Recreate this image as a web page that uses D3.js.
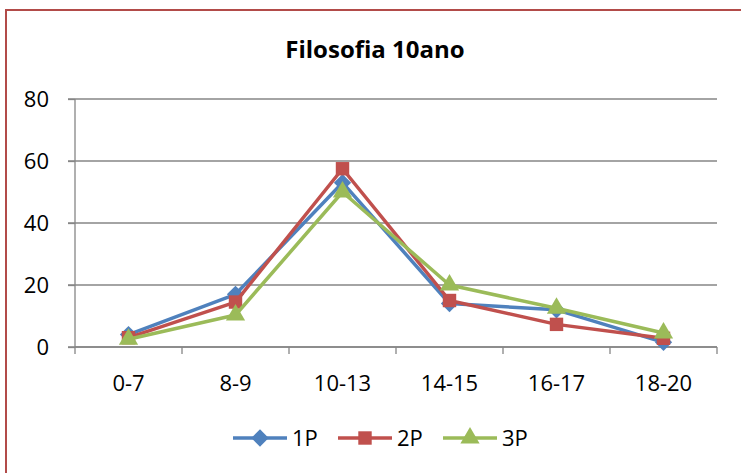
<!DOCTYPE html>
<html>
<head>
<meta charset="utf-8">
<script src="https://cdn.jsdelivr.net/npm/d3@7"></script>
<style>
  html, body { margin: 0; padding: 0; background: #fff; }
  svg { display: block; }
  text { font-family: "Open Sans", Lato, sans-serif; fill: #000; }
</style>
</head>
<body>
<svg id="chart" width="741" height="473"></svg>
<script>
const categories = ["0-7", "8-9", "10-13", "14-15", "16-17", "18-20"];
const seriesNames = ["1P", "2P", "3P"];
const values1P = [4, 17, 53, 14, 12, 1.5];
const values2P = [3, 14.5, 57.5, 15, 7.3, 2.8];
const values3P = [2.5, 10.3, 50, 20, 12.5, 4.5];
const yTicks = [0, 20, 40, 60, 80];
const title = "Filosofia 10ano";

const colors = ["#4F81BD", "#C0504D", "#9BBB59"];
const symbols = [d3.symbolDiamond2, d3.symbolSquare, d3.symbolTriangle];
const symSizes = [190, 180, 160];
const seriesData = [values1P, values2P, values3P];
const FONT = "\"Open Sans\", Lato, sans-serif";

const svg = d3.select("#chart");

// outer chart border (extends beyond the window at right/bottom)
svg.append("rect")
  .attr("x", 6).attr("y", 10)
  .attr("width", 760).attr("height", 480)
  .attr("fill", "none")
  .attr("stroke", "#B24B49")
  .attr("stroke-width", 2);

svg.append("text")
  .attr("x", 375).attr("y", 58)
  .attr("text-anchor", "middle")
  .style("font-size", "24px")
  .style("font-weight", "bold")
  .text(title);

const x = d3.scaleBand().domain(categories).range([75, 717]);
const y = d3.scaleLinear().domain([0, 80]).range([347, 99]);

// gridlines
svg.append("g")
  .selectAll("line")
  .data(yTicks)
  .join("line")
  .attr("x1", 68).attr("x2", 717)
  .attr("y1", d => y(d)).attr("y2", d => y(d))
  .attr("stroke", "#868686")
  .attr("stroke-width", 1.3);

// y axis
const yAxis = svg.append("g")
  .attr("transform", "translate(75,0)")
  .call(d3.axisLeft(y).tickValues(yTicks).tickSize(7).tickPadding(19));
yAxis.select(".domain").attr("stroke", "#868686").attr("stroke-width", 1.3)
  .attr("d", "M0,99V347");
yAxis.selectAll(".tick line").attr("stroke", "#868686").attr("stroke-width", 1.3);
yAxis.selectAll(".tick text").style("font-size", "22px").style("font-family", FONT).attr("fill", "#000");

// x axis
const xAxis = svg.append("g")
  .attr("transform", "translate(0,347)");
xAxis.append("line")
  .attr("x1", 75).attr("x2", 717).attr("y1", 0).attr("y2", 0)
  .attr("stroke", "#868686").attr("stroke-width", 1.3);
const tickPos = categories.map(c => x(c)).concat([x.range()[1]]);
xAxis.selectAll("line.tk")
  .data(tickPos)
  .join("line")
  .attr("class", "tk")
  .attr("x1", d => d).attr("x2", d => d)
  .attr("y1", 0).attr("y2", 7)
  .attr("stroke", "#868686").attr("stroke-width", 1.3);
xAxis.selectAll("text")
  .data(categories)
  .join("text")
  .attr("x", d => x(d) + x.bandwidth() / 2)
  .attr("y", 44)
  .attr("text-anchor", "middle")
  .style("font-size", "22px")
  .text(d => d);

const line = d3.line()
  .x((d, i) => x(categories[i]) + x.bandwidth() / 2)
  .y(d => y(d));

seriesData.forEach((vals, s) => {
  const g = svg.append("g");
  g.append("path")
    .datum(vals)
    .attr("d", line)
    .attr("fill", "none")
    .attr("stroke", colors[s])
    .attr("stroke-width", 3.5)
    .attr("stroke-linejoin", "round");
  g.selectAll("path.m")
    .data(vals)
    .join("path")
    .attr("class", "m")
    .attr("transform", (d, i) => `translate(${x(categories[i]) + x.bandwidth() / 2},${y(d)})`)
    .attr("d", d3.symbol().type(symbols[s]).size(symSizes[s]))
    .attr("fill", colors[s]);
});

// legend
const legendX = [233, 338, 443];
const leg = svg.append("g");
seriesNames.forEach((name, s) => {
  const lx = legendX[s];
  const ly = 438;
  leg.append("line")
    .attr("x1", lx).attr("x2", lx + 54)
    .attr("y1", ly).attr("y2", ly)
    .attr("stroke", colors[s]).attr("stroke-width", 3.5);
  leg.append("path")
    .attr("transform", `translate(${lx + 27},${ly})`)
    .attr("d", d3.symbol().type(symbols[s]).size(symSizes[s]))
    .attr("fill", colors[s]);
  leg.append("text")
    .attr("x", lx + 59).attr("y", ly + 8)
    .style("font-size", "22px")
    .text(name);
});
</script>
</body>
</html>
